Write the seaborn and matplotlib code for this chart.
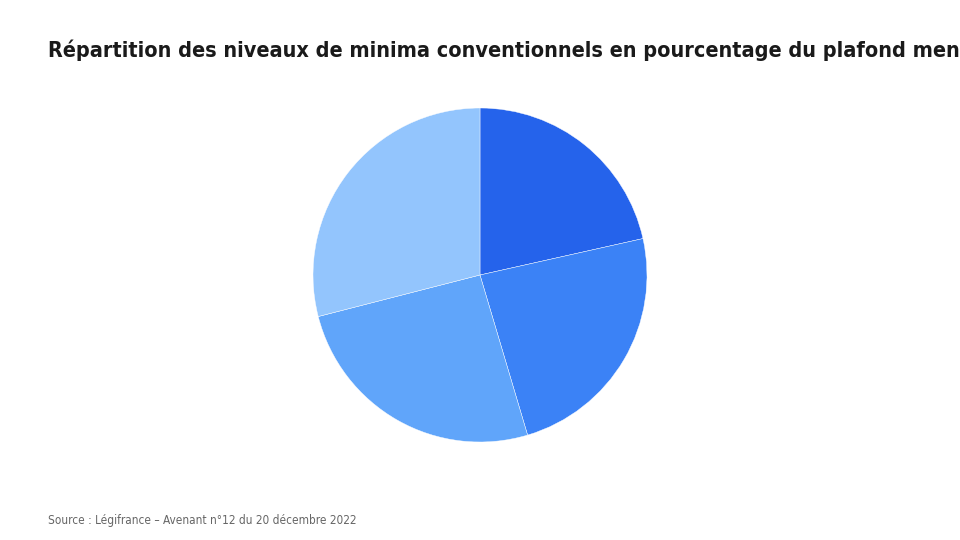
import matplotlib
matplotlib.use("Agg")
import matplotlib.pyplot as plt
import seaborn as sns

# ── Données ──────────────────────────────────────────────────
LABELS = ["Niveau 1", "Niveau 2", "Niveau 3", "Niveau 4"]
VALUES = [21.5, 23.9, 25.6, 29.0]
COLORS = ["#2563EB", "#3B82F6", "#60A5FA", "#93C5FD"]

TITLE = "Répartition des niveaux de minima conventionnels en pourcentage du plafond mensuel de la Sécurité sociale"
SOURCE = "Source : Légifrance – Avenant n°12 du 20 décembre 2022"

sns.set_theme(style="white")
plt.rcParams["font.family"] = ["DejaVu Sans"]

W, H = 960, 540
fig = plt.figure(figsize=(W / 100, H / 100), dpi=100)
fig.patch.set_facecolor("white")

# camembert centré à (480, 275) px, rayon 167 px
cx, cy, r = 480, 275, 167
ax = fig.add_axes([(cx - r) / W, (H - cy - r) / H, 2 * r / W, 2 * r / H])
ax.pie(VALUES, labels=None, colors=sns.color_palette(COLORS), startangle=90,
       counterclock=False, radius=1,
       wedgeprops={"linewidth": 0.3, "edgecolor": "white"})
ax.set_xlim(-1, 1)
ax.set_ylim(-1, 1)
ax.set_aspect("equal")
ax.axis("off")

# titre coupé au bord droit, comme dans l'original
fig.text(48 / W, 1 - 57 / H, TITLE, fontsize=15.5, fontweight="bold", fontstretch="condensed",
         color="#1a1a1a", ha="left", va="baseline")
fig.text(48 / W, 1 - 524 / H, SOURCE, fontsize=8.5, fontstretch="condensed", color="#666666",
         ha="left", va="baseline")

fig.savefig("out.png", dpi=100)
plt.close(fig)
